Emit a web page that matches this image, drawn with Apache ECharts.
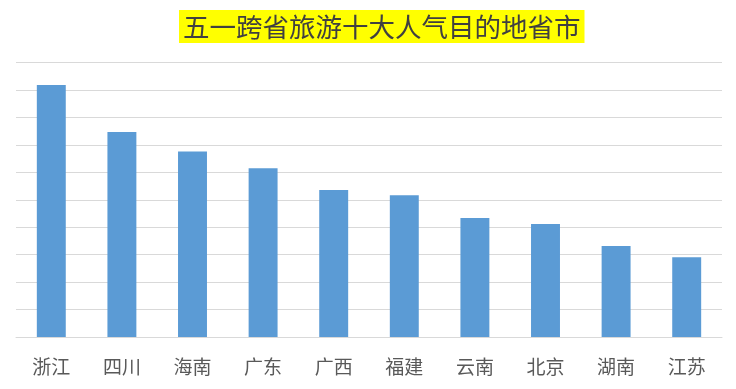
<!DOCTYPE html>
<html>
<head>
<meta charset="utf-8">
<script src="https://cdn.jsdelivr.net/npm/echarts@6/dist/echarts.min.js"></script>
<style>html,body{margin:0;padding:0;background:#fff;}#c{width:736px;height:389px;}</style>
</head>
<body>
<div id="c"></div>
<script>
const categories = ['浙江','四川','海南','广东','广西','福建','云南','北京','湖南','江苏'];
const values = [9.19, 7.47, 6.76, 6.15, 5.36, 5.17, 4.34, 4.12, 3.32, 2.91];
const titleText = '五一跨省旅游十大人气目的地省市';

const chart = echarts.init(document.getElementById('c'));
chart.setOption({
  animation: false,
  title: {
    text: titleText,
    left: 179,
    top: 10,
    padding: [0, 4],
    backgroundColor: '#FFFF00',
    textStyle: {
      fontFamily: 'Noto Sans CJK SC',
      fontSize: 26.5,
      fontWeight: 'normal',
      color: '#404040',
      lineHeight: 33
    }
  },
  grid: { left: 16, right: 14, top: 62.7, bottom: 52, containLabel: false },
  xAxis: {
    type: 'category',
    data: categories,
    axisLine: { lineStyle: { color: '#d9d9d9' } },
    axisTick: { show: false },
    axisLabel: {
      fontFamily: 'Noto Sans CJK SC',
      fontSize: 19,
      color: '#595959',
      margin: 20
    }
  },
  yAxis: {
    type: 'value',
    min: 0, max: 10, interval: 1,
    axisLabel: { show: false },
    axisLine: { show: false },
    axisTick: { show: false },
    splitLine: { lineStyle: { color: '#d9d9d9' } }
  },
  series: [{
    type: 'bar',
    data: values,
    barWidth: '41%',
    itemStyle: { color: '#5B9BD5' }
  }]
});
</script>
</body>
</html>
